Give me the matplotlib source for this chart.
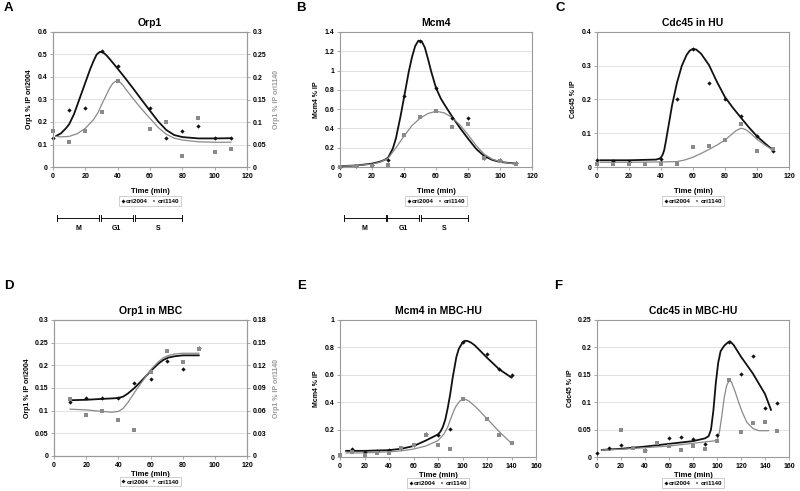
import matplotlib.pyplot as plt
import matplotlib.transforms as mtransforms
from matplotlib.lines import Line2D
from matplotlib.ticker import MultipleLocator, FuncFormatter

# ---- data ----
# A: Orp1
a_t = [0, 10, 20, 30, 40, 60, 70, 80, 90, 100, 110]
a_ori2004 = [0.128, 0.253, 0.262, 0.514, 0.449, 0.264, 0.131, 0.159, 0.180, 0.131, 0.131]
a_ori1140 = [0.081, 0.056, 0.080, 0.123, 0.192, 0.085, 0.101, 0.024, 0.108, 0.034, 0.040]
a_fit_t = [2, 5, 8, 10, 13, 15, 18, 20, 23, 25, 27, 29, 31, 33, 36, 40, 45, 50, 55, 60, 65, 70, 75, 80, 90, 100, 110]
a_fit2004 = [0.138, 0.150, 0.172, 0.190, 0.235, 0.275, 0.335, 0.375, 0.435, 0.470, 0.500, 0.512, 0.509, 0.497, 0.472, 0.437, 0.392, 0.345, 0.297, 0.250, 0.203, 0.165, 0.142, 0.133, 0.127, 0.127, 0.128]
a_fit1140_t = [2, 5, 10, 15, 20, 25, 28, 30, 33, 35, 37, 39, 41, 43, 45, 50, 55, 60, 65, 70, 75, 80, 90, 100, 110]
a_fit1140 = [0.068, 0.067, 0.068, 0.074, 0.086, 0.105, 0.122, 0.138, 0.160, 0.175, 0.186, 0.191, 0.190, 0.183, 0.173, 0.150, 0.128, 0.108, 0.088, 0.073, 0.064, 0.060, 0.056, 0.055, 0.055]

# B: Mcm4
b_t = [0, 10, 20, 30, 40, 50, 60, 70, 80, 90, 100, 110]
b_ori2004 = [0.005, 0.010, 0.020, 0.076, 0.738, 1.310, 0.815, 0.513, 0.513, 0.090, 0.073, 0.040]
b_ori1140 = [0.005, 0.010, 0.010, 0.025, 0.333, 0.517, 0.579, 0.416, 0.447, 0.090, 0.060, 0.030]
b_fit2004_t = [0, 10, 20, 25, 28, 30, 33, 35, 38, 40, 43, 45, 47, 49, 51, 53, 55, 57, 60, 63, 65, 70, 75, 80, 85, 90, 95, 100, 110]
b_fit2004 = [0.010, 0.015, 0.035, 0.055, 0.075, 0.095, 0.190, 0.300, 0.540, 0.720, 0.990, 1.140, 1.255, 1.310, 1.305, 1.240, 1.120, 0.990, 0.820, 0.710, 0.655, 0.525, 0.405, 0.295, 0.190, 0.115, 0.075, 0.052, 0.035]
b_fit1140_t = [0, 10, 20, 25, 30, 35, 40, 45, 50, 55, 60, 65, 70, 75, 80, 85, 90, 95, 100, 110]
b_fit1140 = [0.010, 0.015, 0.030, 0.050, 0.090, 0.200, 0.320, 0.430, 0.505, 0.555, 0.578, 0.562, 0.515, 0.435, 0.335, 0.225, 0.135, 0.082, 0.055, 0.030]

# C: Cdc45 in HU
c_t2004 = [0, 10, 20, 40, 50, 60, 70, 80, 90, 100, 110]
c_ori2004 = [0.020, 0.017, 0.016, 0.025, 0.200, 0.350, 0.250, 0.202, 0.152, 0.093, 0.047]
c_t1140 = [0, 10, 20, 30, 40, 50, 60, 70, 80, 90, 100, 110]
c_ori1140 = [0.010, 0.008, 0.009, 0.010, 0.010, 0.008, 0.058, 0.062, 0.080, 0.128, 0.048, 0.054]
c_fit2004_t = [2, 20, 37, 39, 40, 41, 42, 43, 45, 47, 50, 53, 56, 58, 60, 62, 65, 70, 75, 80, 85, 90, 95, 100, 105, 110]
c_fit2004 = [0.020, 0.020, 0.022, 0.025, 0.028, 0.036, 0.050, 0.075, 0.130, 0.185, 0.250, 0.300, 0.332, 0.345, 0.350, 0.348, 0.336, 0.302, 0.252, 0.207, 0.175, 0.146, 0.117, 0.091, 0.070, 0.050]
c_fit1140_t = [2, 20, 40, 50, 55, 60, 65, 70, 75, 80, 84, 87, 90, 93, 96, 100, 105, 110]
c_fit1140 = [0.014, 0.014, 0.015, 0.016, 0.021, 0.029, 0.040, 0.052, 0.065, 0.080, 0.096, 0.108, 0.115, 0.111, 0.100, 0.082, 0.065, 0.050]

# D: Orp1 in MBC
d_t = [10, 20, 30, 40, 50, 60, 70, 80, 90]
d_ori2004 = [0.119, 0.127, 0.129, 0.127, 0.160, 0.169, 0.209, 0.193, 0.239]
d_ori1140 = [0.076, 0.054, 0.060, 0.048, 0.034, 0.111, 0.139, 0.125, 0.142]
d_fit_t = [10, 20, 30, 36, 40, 43, 46, 50, 55, 60, 65, 68, 71, 75, 80, 90]
d_fit2004 = [0.123, 0.124, 0.126, 0.127, 0.128, 0.131, 0.138, 0.150, 0.168, 0.187, 0.204, 0.212, 0.217, 0.220, 0.222, 0.222]
d_fit1140 = [0.062, 0.061, 0.059, 0.058, 0.059, 0.063, 0.071, 0.084, 0.099, 0.114, 0.125, 0.130, 0.133, 0.135, 0.136, 0.136]

# E: Mcm4 in MBC-HU
e_t2004 = [10, 20, 30, 40, 50, 60, 70, 80, 90, 100, 120, 130, 140]
e_ori2004 = [0.061, 0.037, 0.041, 0.049, 0.068, 0.090, 0.166, 0.159, 0.202, 0.841, 0.749, 0.641, 0.595]
e_t1140 = [0, 10, 20, 30, 40, 50, 60, 70, 80, 90, 100, 120, 130, 140]
e_ori1140 = [0.017, 0.034, 0.017, 0.027, 0.029, 0.066, 0.085, 0.163, 0.090, 0.059, 0.422, 0.276, 0.159, 0.102]
e_fit2004_t = [5, 20, 40, 50, 60, 70, 80, 82, 84, 86, 88, 90, 92, 95, 97, 100, 102, 104, 107, 110, 115, 120, 130, 140]
e_fit2004 = [0.045, 0.045, 0.050, 0.060, 0.080, 0.120, 0.165, 0.185, 0.220, 0.275, 0.360, 0.460, 0.580, 0.730, 0.790, 0.835, 0.848, 0.847, 0.835, 0.815, 0.770, 0.725, 0.640, 0.580]
e_fit1140_t = [5, 20, 40, 50, 60, 70, 80, 85, 88, 90, 93, 95, 98, 100, 102, 105, 110, 115, 120, 130, 140]
e_fit1140 = [0.030, 0.030, 0.038, 0.045, 0.058, 0.080, 0.120, 0.170, 0.220, 0.270, 0.340, 0.375, 0.410, 0.420, 0.422, 0.410, 0.372, 0.327, 0.280, 0.185, 0.100]

# F: Cdc45 in MBC-HU
f_t2004 = [0, 10, 20, 40, 60, 70, 80, 90, 100, 110, 120, 130, 140, 150]
f_ori2004 = [0.007, 0.017, 0.022, 0.013, 0.035, 0.036, 0.033, 0.023, 0.041, 0.210, 0.151, 0.185, 0.090, 0.098]
f_t1140 = [20, 30, 40, 50, 60, 70, 80, 90, 100, 110, 120, 130, 140, 150]
f_ori1140 = [0.049, 0.017, 0.011, 0.025, 0.020, 0.012, 0.020, 0.015, 0.029, 0.140, 0.045, 0.062, 0.064, 0.048]
f_fit2004_t = [4, 20, 40, 60, 80, 90, 93, 95, 97, 99, 101, 103, 106, 109, 111, 114, 120, 130, 140, 145]
f_fit2004 = [0.013, 0.015, 0.019, 0.024, 0.029, 0.034, 0.038, 0.050, 0.085, 0.135, 0.172, 0.193, 0.203, 0.209, 0.211, 0.204, 0.183, 0.152, 0.115, 0.086]
f_fit1140_t = [4, 20, 40, 60, 80, 100, 102, 104, 106, 108, 110, 112, 115, 118, 121, 125, 130, 135, 143]
f_fit1140 = [0.013, 0.014, 0.017, 0.020, 0.025, 0.030, 0.045, 0.075, 0.108, 0.130, 0.139, 0.137, 0.120, 0.100, 0.082, 0.063, 0.052, 0.048, 0.048]

# cell-cycle phases under A and B
phase_names = ['M', 'G1', 'S']
phase_start = [2.5, 29.5, 50.5]
phase_end = [28.5, 49.5, 80]

plt.rcParams['font.family'] = ['Liberation Sans', 'DejaVu Sans']
plt.rcParams['font.weight'] = 'bold'

BLACK = '#111111'
GRAY = '#8a8a8a'
SPINE = '#9a9a9a'

fig = plt.figure(figsize=(8, 4.91), dpi=100)
W, H = 800.0, 491.0


def add_axes(left, top, right, bottom):
    return fig.add_axes([left / W, 1 - bottom / H, (right - left) / W, (bottom - top) / H])


def gfmt(v, pos):
    return '%g' % round(v, 4)


def style(ax, xmax, ymax, ystep, title, ylabel, xpad):
    ax.set_xlim(0, xmax)
    ax.set_ylim(0, ymax)
    ax.xaxis.set_major_locator(MultipleLocator(20))
    ax.yaxis.set_major_locator(MultipleLocator(ystep))
    ax.yaxis.set_major_formatter(FuncFormatter(gfmt))
    ax.grid(axis='y', color='#dddddd', lw=0.6)
    ax.set_axisbelow(True)
    for s in ax.spines.values():
        s.set_color(SPINE)
        s.set_linewidth(0.8)
    ax.tick_params(labelsize=5, length=2, width=0.6, color=SPINE, pad=2)
    ax.set_title(title, fontsize=7.5, fontweight='bold', pad=4)
    ax.set_ylabel(ylabel, fontsize=5, fontweight='bold', labelpad=3)
    ax.set_xlabel('Time (min)', fontsize=5.5, fontweight='bold', labelpad=xpad)


def right_axis(ax, ymax, ystep, ylabel):
    ax2 = ax.twinx()
    ax2.set_ylim(0, ymax)
    ax2.yaxis.set_major_locator(MultipleLocator(ystep))
    ax2.yaxis.set_major_formatter(FuncFormatter(gfmt))
    for s in ax2.spines.values():
        s.set_color(SPINE)
        s.set_linewidth(0.8)
    ax2.tick_params(labelsize=5, length=2, width=0.6, color=SPINE, pad=2)
    ax2.set_ylabel(ylabel, fontsize=5, fontweight='bold', color='#999999', labelpad=5)
    return ax2


def draw(ax_b, ax_g, t1, y1, t2, y2, ft1, fy1, ft2, fy2):
    ax_b.plot(ft1, fy1, color=BLACK, lw=1.3, zorder=3, solid_joinstyle='round')
    ax_g.plot(ft2, fy2, color=GRAY, lw=0.9, zorder=3, solid_joinstyle='round')
    ax_b.plot(t1, y1, 'D', color=BLACK, ms=2.2, mew=0, zorder=4, clip_on=False)
    ax_g.plot(t2, y2, 's', color=GRAY, ms=2.2, mew=0, zorder=4, clip_on=False)


def legend(ax, ypos):
    handles = [Line2D([], [], marker='D', ls='none', color=BLACK, ms=2, mew=0),
               Line2D([], [], marker='s', ls='none', color=GRAY, ms=2, mew=0)]
    leg = ax.legend(handles, ['ori2004', 'ori1140'], loc='center', bbox_to_anchor=(0.5, ypos),
                    ncol=2, fontsize=4.5, frameon=True, fancybox=False, edgecolor='#aaaaaa',
                    handlelength=0.5, handletextpad=0.3, columnspacing=0.7, borderpad=0.3)
    leg.get_frame().set_linewidth(0.5)


def phases(ax):
    tr = mtransforms.blended_transform_factory(ax.transData, ax.transAxes)
    for name, s, e in zip(phase_names, phase_start, phase_end):
        ax.plot([s, e], [-0.378, -0.378], color=BLACK, lw=0.7, transform=tr, clip_on=False)
        for x in (s, e):
            ax.plot([x, x], [-0.40, -0.356], color=BLACK, lw=0.7, transform=tr, clip_on=False)
        ax.text((s + e) / 2, -0.455, name, transform=tr, ha='center', va='center',
                fontsize=5, fontweight='bold')


# ---- top row ----
axA = add_axes(53, 32, 247, 167)
style(axA, 120, 0.6, 0.1, 'Orp1', 'Orp1 % IP ori2004', 6)
axA2 = right_axis(axA, 0.3, 0.05, 'Orp1 % IP ori1140')
draw(axA, axA2, a_t, a_ori2004, a_t, a_ori1140, a_fit_t, a_fit2004, a_fit1140_t, a_fit1140)
legend(axA, -0.252)
phases(axA)

axB = add_axes(340, 32, 532, 167)
style(axB, 120, 1.4, 0.2, 'Mcm4', 'Mcm4 % IP', 6)
draw(axB, axB, b_t, b_ori2004, b_t, b_ori1140, b_fit2004_t, b_fit2004, b_fit1140_t, b_fit1140)
legend(axB, -0.252)
phases(axB)

axC = add_axes(597, 32, 789, 167)
style(axC, 120, 0.4, 0.1, 'Cdc45 in HU', 'Cdc45 % IP', 6)
draw(axC, axC, c_t2004, c_ori2004, c_t1140, c_ori1140, c_fit2004_t, c_fit2004, c_fit1140_t, c_fit1140)
legend(axC, -0.252)

# ---- bottom row ----
axD = add_axes(54, 320, 247, 456)
style(axD, 120, 0.3, 0.05, 'Orp1 in MBC', 'Orp1 % IP ori2004', 1.5)
axD2 = right_axis(axD, 0.18, 0.03, 'Orp1 % IP ori1140')
draw(axD, axD2, d_t, d_ori2004, d_t, d_ori1140, d_fit_t, d_fit2004, d_fit_t, d_fit1140)
legend(axD, -0.19)

axE = add_axes(340, 320, 536, 457)
style(axE, 160, 1.0, 0.2, 'Mcm4 in MBC-HU', 'Mcm4 % IP', 1.5)
draw(axE, axE, e_t2004, e_ori2004, e_t1140, e_ori1140, e_fit2004_t, e_fit2004, e_fit1140_t, e_fit1140)
legend(axE, -0.19)

axF = add_axes(597, 320, 789, 457)
style(axF, 160, 0.25, 0.05, 'Cdc45 in MBC-HU', 'Cdc45 % IP', 1.5)
draw(axF, axF, f_t2004, f_ori2004, f_t1140, f_ori1140, f_fit2004_t, f_fit2004, f_fit1140_t, f_fit1140)
legend(axF, -0.19)

# panel letters
for letter, x, y in [('A', 4, 8), ('B', 296, 8), ('C', 555, 8),
                     ('D', 4, 286), ('E', 297, 286), ('F', 554, 286)]:
    fig.text(x / W, 1 - y / H, letter, fontsize=9.5, fontweight='bold', ha='left', va='center')

fig.savefig('out.png', dpi=100)
